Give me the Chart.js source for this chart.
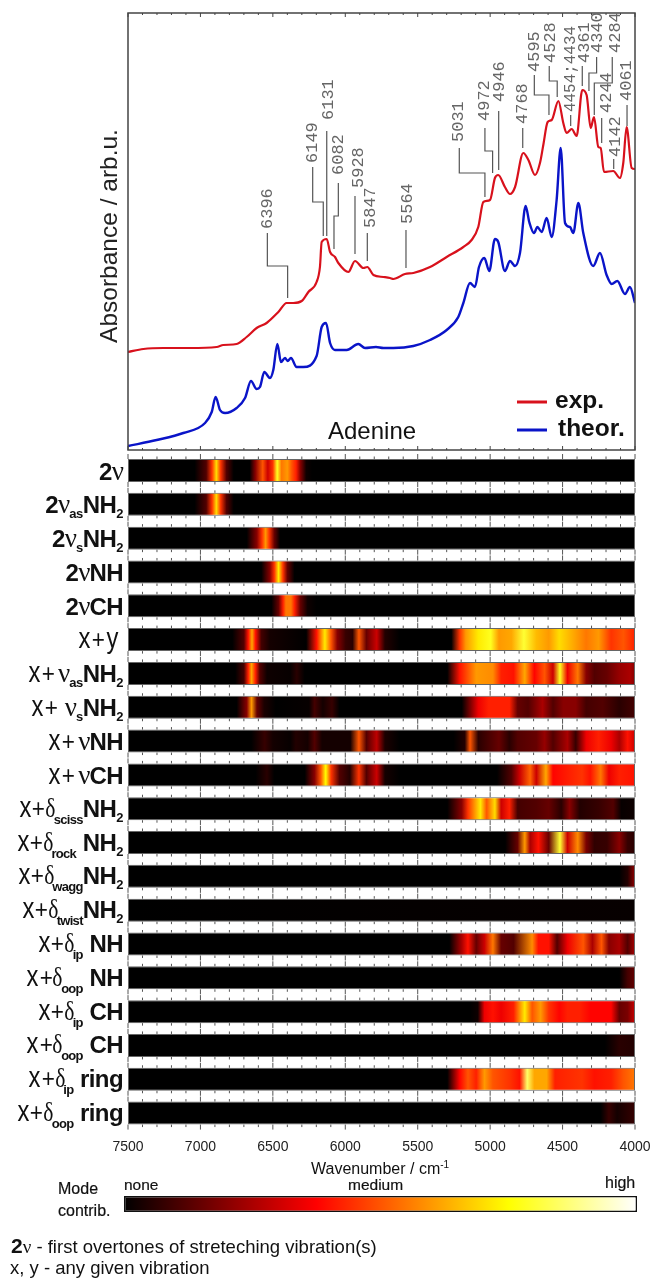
<!DOCTYPE html>
<html>
<head>
<meta charset="utf-8">
<title>Adenine NIR spectrum</title>
<script src="https://cdn.jsdelivr.net/npm/chart.js@4/dist/chart.umd.min.js"></script>
<style>
  html, body { margin: 0; background: #fff; }
  #page { position: relative; width: 652px; height: 1278px; overflow: hidden; font-family: "Liberation Sans", Arial, sans-serif; color: #111; }
  canvas { position: absolute; left: 0; }
  .txt { position: absolute; white-space: nowrap; }
  .row { position: absolute; left: 0; width: 123px; height: 34px; line-height: 34px; text-align: right; white-space: nowrap; font-size: 24px; color: #111; }
  .row b { font-weight: 700; letter-spacing: -0.6px; }
  .row .x { display: inline-block; font-size: 29px; transform: scaleX(.82); transform-origin: 100% 50%; margin-left: -2px; line-height: 20px; }
  .row .p { display: inline-block; font-size: 25px; transform: scaleX(.9); line-height: 20px; }
  .row .g { font-family: "Liberation Serif", serif; font-size: 27px; letter-spacing: -1px; }
  .row .n { margin-left: 3px; }
  .row .d { display: inline-block; transform: scaleX(.8); margin: 0 -2px; line-height: 20px; }
  .row sub { font-size: 13px; line-height: 0; font-weight: 700; vertical-align: -5px; letter-spacing: -0.5px; }
  .row sub.l { vertical-align: -7px; font-size: 13px; letter-spacing: -0.7px; }
</style>
</head>
<body>
<div id="page">
  <canvas id="spectrum" width="652" height="455" style="top:0"></canvas>
  <canvas id="heat" width="652" height="710" style="top:450px"></canvas>
  <canvas id="scaleBar" width="652" height="24" style="top:1192px"></canvas>

  <div class="txt" style="left:311px;top:1160px;font-size:16px">Wavenumber / cm<sup style="font-size:10px;line-height:0">-1</sup></div>
  <div class="txt" style="left:58px;top:1180px;font-size:16px;-webkit-text-stroke:.2px #111">Mode</div>
  <div class="txt" style="left:58px;top:1202px;font-size:16px;-webkit-text-stroke:.2px #111">contrib.</div>
  <div class="txt" style="left:124px;top:1176px;font-size:15.5px;-webkit-text-stroke:.2px #111">none</div>
  <div class="txt" style="left:348px;top:1176px;font-size:15.5px;-webkit-text-stroke:.2px #111">medium</div>
  <div class="txt" style="left:605px;top:1174px;font-size:16px;-webkit-text-stroke:.2px #111">high</div>
  <div class="txt" style="left:11px;top:1234px;font-size:18.5px"><b style="font-size:21px">2</b><span style="font-family:'Liberation Serif',serif;font-size:19px">ν</span> - first overtones of streteching vibration(s)</div>
  <div class="txt" style="left:10px;top:1257px;font-size:18.5px">x, y - any given vibration</div>
</div>

<script>
// spectra
const expWavenumber = [7500,7394,7256,7072,6888,6842,6750,6681,6612,6543,6462,6405,6359,6301,6255,6198,6175,6163,6128,6105,6071,6048,5979,5933,5875,5848,5806,5737,5691,5668,5588,5530,5415,5300,5185,5128,5082,5047,5001,4967,4944,4898,4863,4828,4771,4736,4690,4656,4633,4603,4575,4529,4495,4472,4437,4403,4364,4334,4306,4283,4253,4237,4214,4150,4104,4081,4058,4023,4000];
const expAbsorbance = [98,101,102,102,103,105,106,113,122,127,138,147,147,149,158,168,183,208,211,198,193,187,178,189,182,183,175,173,172,171,176,177,183,193,203,210,223,248,250,272,275,263,256,263,297,290,275,287,305,328,330,349,327,317,321,314,360,355,322,333,303,302,278,279,272,287,323,282,281];
const theorWavenumber = [7500,7302,7118,6968,6922,6895,6865,6830,6750,6692,6651,6612,6589,6559,6520,6497,6469,6444,6416,6398,6375,6336,6290,6198,6163,6133,6105,6071,5990,5910,5864,5788,5737,5668,5530,5415,5300,5220,5185,5139,5105,5077,5040,5006,4967,4944,4898,4863,4828,4794,4755,4730,4697,4674,4644,4610,4575,4541,4513,4483,4449,4426,4391,4357,4288,4242,4196,4161,4122,4069,4035,4000];
const theorAbsorbance = [4,10,17,27,38,53,40,37,42,52,69,61,63,78,72,80,106,88,92,89,92,83,83,94,123,127,107,100,100,106,102,103,102,102,104,110,120,133,147,167,163,183,192,179,211,208,179,189,184,197,244,228,217,223,218,232,213,250,302,227,223,217,247,217,184,197,175,166,169,156,163,147];

// peak annotations: text, label anchor [wavenumber, absorbance], leader polyline
const peakLabels = ['6396','6149','6131','6082','5928','5847','5564','5031','4972','4946','4768','4595','4528','4454;4434','4361','4340','4284','4244','4142','4061'];
const peakAnchors = [[6540,221],[6223,287],[6115,330],[6044,275],[5910,262],[5823,222],[5572,226],[5220,308],[5040,329],[4932,348],[4775,326],[4695,378],[4580,387],[4447,338],[4350,387],[4258,397],[4138,397],[4200,337],[4138,293],[4057,349]];
const peakLeaders = [
  [[6538,217],[6538,184],[6398,184],[6398,152]],
  [[6225,283],[6225,248],[6152,248],[6152,214]],
  [[6128,319],[6128,214]],
  [[6048,267],[6048,234],[6078,234],[6078,201]],
  [[5933,254],[5933,196]],
  [[5848,217],[5848,189]],
  [[5581,220],[5581,182]],
  [[5213,302],[5213,277],[5036,277],[5036,253]],
  [[5036,322],[5036,299],[4983,299],[4983,277]],
  [[4941,339],[4941,280]],
  [[4775,322],[4775,302]],
  [[4695,375],[4695,355],[4594,355],[4594,335]],
  [[4592,384],[4592,369],[4537,369],[4537,353]],
  [[4444,335],[4444,324]],
  [[4364,384],[4364,364]],
  [[4265,393],[4265,377],[4318,377],[4318,359]],
  [[4157,393],[4157,367],[4281,367],[4281,335]],
  [[4230,332],[4230,307]],
  [[4147,291],[4147,281]],
  [[4055,345],[4055,324]]
];

const majorTicks = [7500,7000,6500,6000,5500,5000,4500,4000];
const minorTicks = [7400,7300,7200,7100,6900,6800,6700,6600,6400,6300,6200,6100,5900,5800,5700,5600,5400,5300,5200,5100,4900,4800,4700,4600,4400,4300,4200,4100];

// mode contribution per row, [wavenumber, 0..1]
const heat2v = [[7040,0],[6960,.12],[6920,.45],[6890,.7],[6860,.45],[6820,.12],[6770,0],[6660,0],[6620,.2],[6570,.5],[6535,.3],[6500,.45],[6470,.78],[6440,.55],[6400,.6],[6370,.5],[6340,.42],[6310,.2],[6270,.02],[6230,0]];
const heat2vasNH2 = [[7040,0],[6960,.12],[6920,.45],[6890,.7],[6860,.45],[6820,.12],[6770,0]];
const heat2vsNH2 = [[6680,0],[6610,.2],[6575,.45],[6550,.6],[6525,.45],[6490,.15],[6450,0]];
const heat2vNH = [[6580,0],[6520,.2],[6490,.45],[6461,.72],[6430,.45],[6400,.15],[6350,0]];
const heat2vCH = [[6510,0],[6460,.15],[6430,.42],[6410,.55],[6375,.55],[6350,.42],[6310,.15],[6260,.02],[6200,0]];
const heatXY = [[6780,0],[6700,.12],[6670,.4],[6644,.62],[6620,.4],[6580,.1],[6520,.03],[6270,0],[6198,.4],[6141,.72],[6098,.5],[6055,.2],[5997,.08],[5950,.06],[5906,.5],[5854,.15],[5783,.3],[5726,.05],[5626,0],[5268,0],[5210,.45],[5168,.6],[5082,.72],[4996,.78],[4939,.6],[4853,.62],[4767,.8],[4681,.65],[4595,.6],[4523,.7],[4423,.62],[4337,.55],[4251,.6],[4165,.45],[4080,.5],[4000,.42]];
const heatXvasNH2 = [[6760,0],[6700,.1],[6670,.42],[6647,.62],[6620,.42],[6590,.12],[6540,.02],[6380,.01],[6335,.06],[6280,0],[5296,0],[5210,.4],[5153,.5],[5096,.6],[4981,.58],[4924,.42],[4838,.4],[4761,.62],[4695,.38],[4624,.5],[4566,.3],[4518,.78],[4466,.35],[4395,.55],[4337,.2],[4280,.12],[4194,.15],[4108,.22],[4037,.25],[4000,.2]];
const heatXvsNH2 = [[6750,0],[6680,.2],[6647,.6],[6610,.15],[6560,.04],[6480,0],[6250,.01],[6212,.1],[6155,.03],[6092,.08],[6040,0],[5196,0],[5082,.35],[5010,.42],[4939,.42],[4867,.42],[4810,.15],[4738,.12],[4638,.25],[4566,.12],[4495,.2],[4409,.2],[4337,.1],[4223,.12],[4108,.06],[4000,.1]];
const heatXvNH = [[6650,0],[6556,.08],[6500,.03],[6380,.01],[6341,.05],[6260,.03],[6212,.12],[6160,.03],[6112,.03],[5965,.03],[5906,.5],[5854,.12],[5783,.28],[5726,.04],[5626,0],[5253,0],[5175,.05],[5139,.5],[5082,.06],[4939,.15],[4867,.06],[4810,.12],[4681,.15],[4624,.22],[4566,.12],[4466,.25],[4409,.08],[4337,.35],[4251,.42],[4165,.35],[4108,.25],[4051,.4],[4000,.3]];
const heatXvCH = [[6620,0],[6541,.06],[6490,0],[6280,0],[6212,.2],[6169,.5],[6135,.75],[6098,.45],[6040,.12],[5969,.05],[5906,.45],[5854,.12],[5783,.3],[5726,.03],[5626,0],[4953,0],[4853,.12],[4796,.3],[4724,.52],[4681,.3],[4615,.62],[4566,.38],[4452,.42],[4366,.45],[4309,.4],[4237,.55],[4180,.35],[4108,.42],[4000,.4]];
const heatXscissNH2 = [[5296,0],[5196,.2],[5153,.45],[5067,.72],[5024,.5],[4967,.7],[4924,.3],[4867,.42],[4810,.1],[4681,.12],[4595,.15],[4509,.06],[4452,.2],[4380,.05],[4251,.08],[4151,.12],[4094,.01],[4000,.02]];
const heatXrockNH2 = [[4896,0],[4810,.15],[4761,.6],[4724,.25],[4667,.4],[4595,.15],[4518,.8],[4466,.3],[4395,.58],[4337,.18],[4280,.07],[4194,.08],[4108,.2],[4051,.08],[4000,.06]];
const heatXwaggNH2 = [[4108,0],[4051,.05],[4000,.22]];
const heatXtwistNH2 = [[4000,.01]];
const heatXipNH = [[5282,0],[5196,.25],[5153,.4],[5096,.15],[5039,.3],[4981,.55],[4924,.15],[4838,.12],[4710,.58],[4667,.4],[4595,.4],[4538,.12],[4466,.35],[4357,.5],[4294,.25],[4231,.5],[4180,.2],[4108,.25],[4051,.12],[4000,.25]];
const heatXoopNH = [[4108,0],[4051,.1],[4000,.15]];
const heatXipCH = [[5139,0],[5085,.02],[5039,.35],[4981,.4],[4924,.35],[4838,.42],[4761,.72],[4710,.5],[4652,.6],[4595,.45],[4523,.38],[4466,.42],[4380,.42],[4309,.38],[4165,.38],[4108,.15],[4051,.18],[4000,.3]];
const heatXoopCH = [[4208,0],[4108,.06],[4000,.05]];
const heatXipRing = [[5296,0],[5210,.38],[5153,.5],[5096,.42],[5039,.6],[4981,.5],[4867,.45],[4796,.4],[4744,.85],[4695,.62],[4610,.62],[4552,.42],[4366,.45],[4280,.4],[4165,.42],[4080,.5],[4000,.55]];
const heatXoopRing = [[4237,0],[4180,.08],[4123,.03],[4000,.08]];

const heatRows = [heat2v,heat2vasNH2,heat2vsNH2,heat2vNH,heat2vCH,heatXY,heatXvasNH2,heatXvsNH2,heatXvNH,heatXvCH,heatXscissNH2,heatXrockNH2,heatXwaggNH2,heatXtwistNH2,heatXipNH,heatXoopNH,heatXipCH,heatXoopCH,heatXipRing,heatXoopRing];
const rowNames = ['2v','2v as NH2','2v s NH2','2v NH','2v CH','x+y','x+v as NH2','x+v s NH2','x+v NH','x+v CH','x+d sciss NH2','x+d rock NH2','x+d wagg NH2','x+d twist NH2','x+d ip NH','x+d oop NH','x+d ip CH','x+d oop CH','x+d ip ring','x+d oop ring'];

const NU = '<span class="g">ν</span>', NUX = '<span class="g n">ν</span>', DE = '<span class="g d">δ</span>';
const X = '<span class="x">x</span><span class="p">+</span>';
const NH2 = '<b>NH</b><sub>2</sub>';
const rowLabels = [
  `<b>2</b>${NU}`, `<b>2</b>${NU}<sub>as</sub>${NH2}`, `<b>2</b>${NU}<sub>s</sub>${NH2}`, `<b>2</b>${NU}<b>NH</b>`, `<b>2</b>${NU}<b>CH</b>`,
  `${X}<span class="x" style="margin-right:5px">y</span>`, `${X}${NUX}<sub>as</sub>${NH2}`, `${X} ${NU}<sub>s</sub>${NH2}`, `${X}${NUX}<b>NH</b>`, `${X}${NUX}<b>CH</b>`,
  `${X}${DE}<sub class="l">sciss</sub>${NH2}`, `${X}${DE}<sub class="l">rock</sub> ${NH2}`, `${X}${DE}<sub class="l">wagg</sub>${NH2}`, `${X}${DE}<sub class="l">twist</sub>${NH2}`,
  `${X}${DE}<sub class="l">ip</sub> <b>NH</b>`, `${X}${DE}<sub class="l">oop</sub> <b>NH</b>`, `${X}${DE}<sub class="l">ip</sub> <b>CH</b>`, `${X}${DE}<sub class="l">oop</sub> <b>CH</b>`,
  `${X}${DE}<sub class="l">ip</sub> <b>ring</b>`, `${X}${DE}<sub class="l">oop</sub> <b>ring</b>`
];

const colorPositions = [0, .375, .75, 1];
const colorStops = [[0,0,0],[255,0,0],[255,255,0],[255,255,255]];

function hot(v) {
  for (let i = 1; i < colorPositions.length; i++) {
    if (v <= colorPositions[i]) {
      const t = (v - colorPositions[i-1]) / (colorPositions[i] - colorPositions[i-1]);
      const a = colorStops[i-1], b = colorStops[i];
      return `rgb(${a.map((c, k) => Math.round(c + (b[k] - c) * t)).join(',')})`;
    }
  }
  return 'rgb(255,255,255)';
}

function rowGradient(chart, stops) {
  const x = chart.scales.x;
  if (!x) return '#000';
  const x0 = x.getPixelForValue(7500), x1 = x.getPixelForValue(4000);
  if (!isFinite(x0) || !isFinite(x1)) return '#000';
  const g = chart.ctx.createLinearGradient(x0, 0, x1, 0);
  g.addColorStop(0, '#000');
  for (const [w, v] of stops) g.addColorStop((x.getPixelForValue(w) - x0) / (x1 - x0), hot(v));
  return g;
}

const TICK = '#555';

function drawTicks(ctx, x, y, dir, majorLen, minorLen) {
  ctx.beginPath();
  for (const w of majorTicks) { const px = x.getPixelForValue(w); ctx.moveTo(px, y); ctx.lineTo(px, y + dir * majorLen); }
  for (const w of minorTicks) { const px = x.getPixelForValue(w); ctx.moveTo(px, y); ctx.lineTo(px, y + dir * minorLen); }
  ctx.stroke();
}

const spectrumFrame = {
  id: 'spectrumFrame',
  afterDatasetsDraw(chart) {
    const { ctx, chartArea: a, scales } = chart;
    ctx.save();
    ctx.strokeStyle = '#444';
    ctx.lineWidth = 1.5;
    ctx.strokeRect(a.left, a.top, a.right - a.left, a.bottom - a.top);
    ctx.lineWidth = 1;
    drawTicks(ctx, scales.x, a.top, 1, 4, 2);
    drawTicks(ctx, scales.x, a.bottom, -1, 4, 2);

    // rotated peak labels
    ctx.fillStyle = '#666';
    ctx.font = '17px "Liberation Mono", monospace';
    ctx.textAlign = 'left';
    ctx.textBaseline = 'middle';
    peakLabels.forEach((t, i) => {
      ctx.save();
      ctx.translate(scales.x.getPixelForValue(peakAnchors[i][0]), scales.y.getPixelForValue(peakAnchors[i][1]));
      ctx.rotate(-Math.PI / 2);
      ctx.fillText(t, 0, 0, 86);
      ctx.restore();
    });

    // axis title
    ctx.save();
    ctx.fillStyle = '#222';
    ctx.font = '24.5px "Liberation Sans", Arial, sans-serif';
    ctx.textAlign = 'center';
    ctx.translate(110, 236);
    ctx.rotate(-Math.PI / 2);
    ctx.fillText('Absorbance / arb.u.', 0, 0);
    ctx.restore();

    // legend
    ctx.font = 'bold 24.5px "Liberation Sans", Arial, sans-serif';
    ctx.fillStyle = '#111';
    ctx.lineWidth = 3;
    [[0, 402, 555], [1, 430, 558]].forEach(([d, y, tx]) => {
      const ds = chart.data.datasets[d];
      ctx.strokeStyle = ds.borderColor;
      ctx.beginPath(); ctx.moveTo(517, y); ctx.lineTo(547, y); ctx.stroke();
      ctx.fillText(ds.label, tx, y - 1);
    });
    ctx.font = '24px "Liberation Sans", Arial, sans-serif';
    ctx.fillText('Adenine', 328, 432);
    ctx.restore();
  }
};

const leaderSets = peakLeaders.map(pts => ({
  data: pts.map(p => ({ x: p[0], y: p[1] })),
  borderColor: '#555', borderWidth: 1.2, pointRadius: 0, tension: 0, order: 3
}));

new Chart(document.getElementById('spectrum'), {
  type: 'line',
  data: {
    datasets: [
      { label: 'exp.', data: expWavenumber.map((x, i) => ({ x, y: expAbsorbance[i] })), borderColor: '#d8111c', borderWidth: 2.2, pointRadius: 0, cubicInterpolationMode: 'monotone' },
      { label: 'theor.', data: theorWavenumber.map((x, i) => ({ x, y: theorAbsorbance[i] })), borderColor: '#0a14c8', borderWidth: 2.4, pointRadius: 0, cubicInterpolationMode: 'monotone' },
      ...leaderSets
    ]
  },
  options: {
    responsive: false, animation: false, parsing: false,
    layout: { padding: { top: 13, right: 17, bottom: 5 } },
    plugins: { legend: { display: false }, tooltip: { enabled: false } },
    scales: {
      x: {
        type: 'linear', reverse: true, min: 4000, max: 7500,
        grid: { display: false }, border: { display: false }, ticks: { display: false },
        afterFit(s) { s.height = 0; }
      },
      y: {
        min: 0, max: 437,
        grid: { display: false }, border: { display: false }, ticks: { display: false },
        afterFit(s) { s.width = 128; }
      }
    }
  },
  plugins: [spectrumFrame]
});

const stripTicks = {
  id: 'stripTicks',
  afterDatasetsDraw(chart) {
    const { ctx, scales } = chart;
    const half = 11.5;
    ctx.save();
    ctx.strokeStyle = TICK;
    ctx.lineWidth = 1;
    rowNames.forEach((_, i) => {
      const c = scales.y.getPixelForValue(i);
      drawTicks(ctx, scales.x, c - half, -1, 5, 2.5);
      drawTicks(ctx, scales.x, c + half, 1, 5, 2.5);
    });
    ctx.restore();
  }
};

const heatChart = new Chart(document.getElementById('heat'), {
  type: 'bar',
  data: {
    labels: rowNames,
    datasets: [{
      data: heatRows.map(() => [4000, 7500]),
      backgroundColor: c => rowGradient(c.chart, heatRows[c.dataIndex]),
      borderColor: '#666', borderWidth: 1, borderSkipped: false,
      barPercentage: 0.68, categoryPercentage: 1
    }]
  },
  options: {
    indexAxis: 'y', responsive: false, animation: false,
    layout: { padding: { top: 3.6, left: 128, right: 17, bottom: 0 } },
    plugins: { legend: { display: false }, tooltip: { enabled: false } },
    scales: {
      x: {
        type: 'linear', reverse: true, min: 4000, max: 7500,
        grid: { display: false }, border: { display: false },
        ticks: { stepSize: 500, maxRotation: 0, autoSkip: false, padding: 1, color: '#222', font: { family: '"Liberation Sans", Arial, sans-serif', size: 14 }, callback: v => String(v) },
        afterFit(s) { s.height = 30; s.paddingLeft = 0; s.paddingRight = 0; }
      },
      y: { display: false }
    }
  },
  plugins: [stripTicks]
});

const scaleChart = new Chart(document.getElementById('scaleBar'), {
  type: 'bar',
  data: {
    labels: ['contribution'],
    datasets: [{
      data: [[0, 1]],
      backgroundColor: c => {
        const x = c.chart.scales.x;
        if (!x || !isFinite(x.getPixelForValue(0))) return '#000';
        const g = c.chart.ctx.createLinearGradient(x.getPixelForValue(0), 0, x.getPixelForValue(1), 0);
        colorPositions.forEach(p => g.addColorStop(p, hot(p)));
        return g;
      },
      borderColor: '#111', borderWidth: 1.5, borderSkipped: false,
      barPercentage: 0.66, categoryPercentage: 1
    }]
  },
  options: {
    indexAxis: 'y', responsive: false, animation: false,
    layout: { padding: { left: 124, right: 15 } },
    plugins: { legend: { display: false }, tooltip: { enabled: false } },
    scales: { x: { display: false, min: 0, max: 1 }, y: { display: false } }
  }
});
heatChart.update();
scaleChart.update();

// row labels sit next to their strips
const page = document.getElementById('page');
rowLabels.forEach((html, i) => {
  const d = document.createElement('div');
  d.className = 'row';
  d.innerHTML = html;
  d.style.top = (450 + heatChart.scales.y.getPixelForValue(i) - 17) + 'px';
  page.appendChild(d);
});
</script>
</body>
</html>
